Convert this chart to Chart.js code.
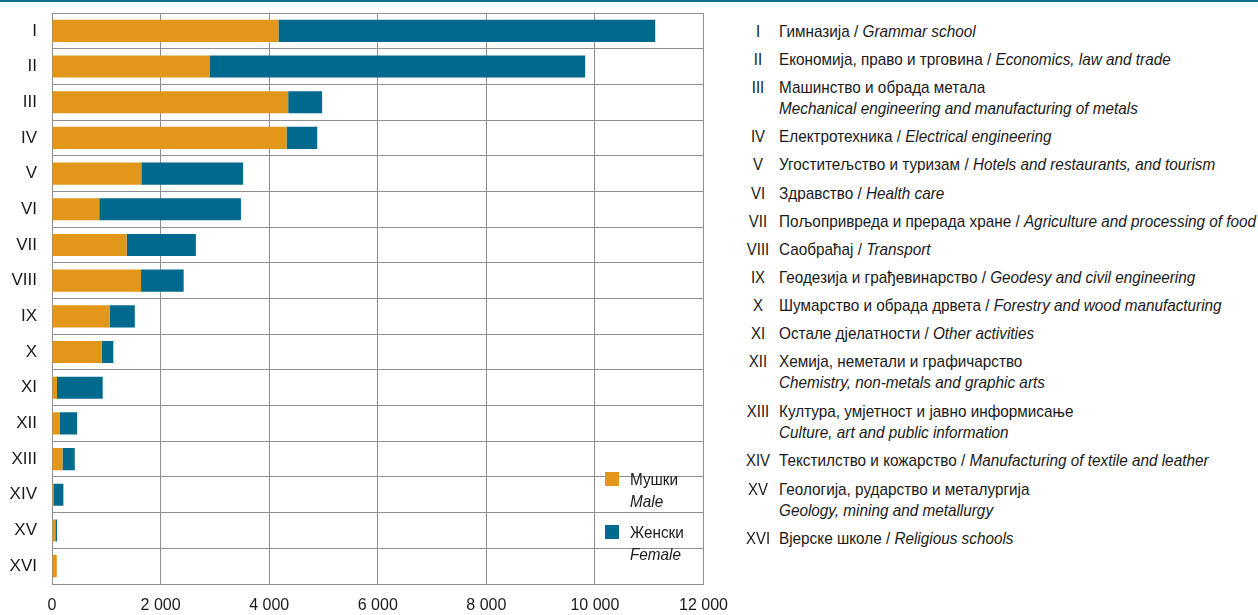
<!DOCTYPE html>
<html>
<head>
<meta charset="utf-8">
<script src="https://cdn.jsdelivr.net/npm/chart.js@4.4.1/dist/chart.umd.min.js"></script>
<style>
  html, body { margin: 0; padding: 0; background: #fff; }
  #wrap { position: relative; width: 1258px; height: 615px; overflow: hidden;
    font-family: "Liberation Sans", Arial, sans-serif; color: #1a1a1a; }
  #topline { position: absolute; left: 0; top: 0; width: 1258px; height: 2px; background: #0f6a8b; }
  #chart { position: absolute; left: 0; top: 0; }
  .legend { position: absolute; font-size: 17px; line-height: 22px; }
  .legend .sw { position: absolute; width: 14px; height: 14px; left: 0; top: 0; }
  .legend .txt { position: absolute; left: 25px; top: -3px; white-space: nowrap;
    transform: scaleX(0.9); transform-origin: left center; }
  .row { position: absolute; font-size: 17px; line-height: 21px; white-space: nowrap; }
  .row .num { position: absolute; left: 0; width: 40px; text-align: center;
    transform: scaleX(0.88); transform-origin: center; }
  .row .txt { position: absolute; left: 41px; transform: scaleX(0.9); transform-origin: left top; }
  i { font-style: italic; }
</style>
</head>
<body>
<div id="wrap">
  <div id="topline"></div>
  <canvas id="chart" width="740" height="615"></canvas>
  <div id="legend"></div>
  <div id="list"></div>
</div>
<script>
// categories (school fields) and pupils by sex
const categories = ["I", "II", "III", "IV", "V", "VI", "VII", "VIII", "IX", "X", "XI", "XII", "XIII", "XIV", "XV", "XVI"];
const maleValues = [4170, 2900, 4350, 4320, 1645, 870, 1375, 1640, 1065, 915, 92, 138, 192, 25, 62, 88];
const femaleValues = [6940, 6920, 625, 565, 1875, 2610, 1275, 785, 460, 215, 842, 325, 228, 185, 30, 0];
const xTicks = [0, 2000, 4000, 6000, 8000, 10000, 12000];

const seriesNames = [["Мушки", "Male"], ["Женски", "Female"]];
const seriesColors = ["#e2971a", "#006a8e"];

const fieldNames = [
  ["Гимназија / ", "Grammar school"],
  ["Економија, право и трговина / ", "Economics, law and trade"],
  ["Машинство и обрада метала", "Mechanical engineering and manufacturing of metals", true],
  ["Електротехника / ", "Electrical engineering"],
  ["Угоститељство и туризам / ", "Hotels and restaurants, and tourism"],
  ["Здравство / ", "Health care"],
  ["Пољопривреда и прерада хране / ", "Agriculture and processing of food"],
  ["Саобраћај / ", "Transport"],
  ["Геодезија и грађевинарство / ", "Geodesy and civil engineering"],
  ["Шумарство и обрада дрвета / ", "Forestry and wood manufacturing"],
  ["Остале дјелатности / ", "Other activities"],
  ["Хемија, неметали и графичарство", "Chemistry, non-metals and graphic arts", true],
  ["Култура, умјетност и јавно информисање", "Culture, art and public information", true],
  ["Текстилство и кожарство / ", "Manufacturing of textile and leather"],
  ["Геологија, рударство и металургија", "Geology, mining and metallurgy", true],
  ["Вјерске школе / ", "Religious schools"]
];

const fontFamily = '"Liberation Sans", Arial, sans-serif';
const gridColor = "#8e8e8e";

function fmt(v) {
  return String(v).replace(/\B(?=(\d{3})+(?!\d))/g, " ");
}

const ctx = document.getElementById("chart").getContext("2d");
new Chart(ctx, {
  type: "bar",
  data: {
    labels: categories,
    datasets: [
      { label: seriesNames[0][0], data: maleValues, backgroundColor: seriesColors[0] },
      { label: seriesNames[1][0], data: femaleValues, backgroundColor: seriesColors[1] }
    ]
  },
  options: {
    indexAxis: "y",
    responsive: false,
    animation: false,
    devicePixelRatio: 1,
    layout: { padding: { left: 0, top: 13, right: 36, bottom: 0 } },
    datasets: { bar: { categoryPercentage: 1, barPercentage: 0.62, borderWidth: 0 } },
    plugins: { legend: { display: false }, tooltip: { enabled: false } },
    scales: {
      x: {
        stacked: true,
        min: 0,
        max: 12000,
        afterBuildTicks: (scale) => { scale.ticks = xTicks.map((v) => ({ value: v })); },
        afterFit: (scale) => { scale.height = 31; },
        ticks: { callback: (v) => fmt(v), color: "#1a1a1a", font: { family: fontFamily, size: 16 }, padding: 12, maxRotation: 0 },
        grid: { color: gridColor, lineWidth: 1, drawTicks: false },
        border: { color: gridColor, width: 1 }
      },
      y: {
        stacked: true,
        afterFit: (scale) => { scale.width = 52; scale.paddingTop = 0; scale.paddingBottom = 0; },
        ticks: { color: "#1a1a1a", font: { family: fontFamily, size: 17 }, padding: 15 },
        grid: { color: gridColor, lineWidth: 1, drawTicks: false, offset: true },
        border: { color: gridColor, width: 1 }
      }
    }
  }
});

// legend inside the plot area
const legendBox = document.getElementById("legend");
const legendTops = [472, 525];
seriesNames.forEach((names, i) => {
  const el = document.createElement("div");
  el.className = "legend";
  el.style.left = "605px";
  el.style.top = legendTops[i] + "px";
  el.innerHTML = `<div class="sw" style="background:${seriesColors[i]}"></div>` +
    `<div class="txt">${names[0]}<br><i>${names[1]}</i></div>`;
  legendBox.appendChild(el);
});

// list of field names on the right
const list = document.getElementById("list");
const rowCenters = [31, 59, 87, 136, 164, 193, 221, 249, 277, 305, 333, 361, 411, 460, 489, 538];
fieldNames.forEach((f, i) => {
  const el = document.createElement("div");
  el.className = "row";
  el.style.left = "738px";
  el.style.top = (rowCenters[i] - 10.5) + "px";
  const body = f[2] ? `${f[0]}<br><i>${f[1]}</i>` : `${f[0]}<i>${f[1]}</i>`;
  el.innerHTML = `<span class="num">${categories[i]}</span><span class="txt">${body}</span>`;
  list.appendChild(el);
});
</script>
</body>
</html>
